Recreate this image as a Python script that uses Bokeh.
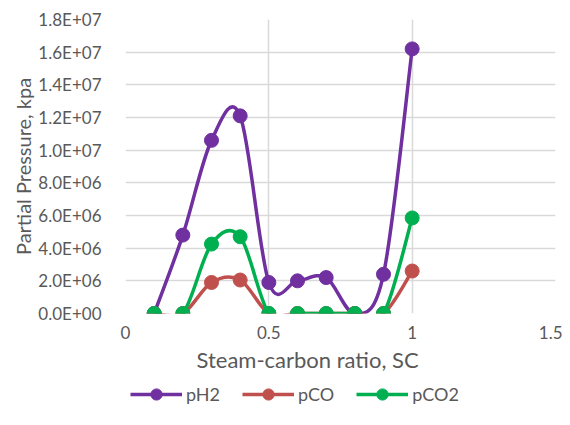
import numpy as np
from bokeh.plotting import figure
from bokeh.layouts import column
from bokeh.models import (FixedTicker, CustomJSTickFormatter, Legend, LegendItem,
                          ColumnDataSource, Range1d, Title)
from bokeh.embed import file_html
from bokeh.resources import INLINE

sc = [0.1, 0.2, 0.3, 0.4, 0.5, 0.6, 0.7, 0.8, 0.9, 1.0]
pH2 = [0.0, 4.8e6, 1.06e7, 1.21e7, 1.9e6, 2.0e6, 2.2e6, 0.0, 2.4e6, 1.62e7]
pCO = [0.0, 0.0, 1.9e6, 2.05e6, 0.0, 0.0, 0.0, 0.0, 0.0, 2.6e6]
pCO2 = [0.0, 0.0, 4.25e6, 4.7e6, 0.0, 0.0, 0.0, 0.0, 0.0, 5.85e6]
series = [("pH2", pH2, "#7030A0"), ("pCO", pCO, "#C0504D"), ("pCO2", pCO2, "#00B050")]

x_ticks = [0, 0.5, 1.0, 1.5]
x_labels = ["0", "0.5", "1", "1.5"]
y_ticks = [0, 2e6, 4e6, 6e6, 8e6, 1e7, 1.2e7, 1.4e7, 1.6e7, 1.8e7]

FONT = "Lato"
GREY = "#595959"
GRID = "#D9D9D9"

p = figure(frame_width=430, frame_height=294, output_backend="svg", toolbar_location=None,
           x_range=Range1d(0, 1.5), y_range=Range1d(0, 1.8e7),
           min_border_left=125, min_border_right=7, min_border_top=19, min_border_bottom=0)
p.outline_line_color = None
p.background_fill_color = "white"

def smooth_segments(xs, ys):
    x = np.asarray(xs, float); y = np.asarray(ys, float)
    n = len(x)
    xp = np.concatenate([[x[0]], x, [x[-1]]])
    yp = np.concatenate([[y[0]], y, [y[-1]]])
    d = dict(x0=[], y0=[], x1=[], y1=[], cx0=[], cy0=[], cx1=[], cy1=[])
    for i in range(n - 1):
        j = i + 1
        d["x0"].append(x[i]); d["y0"].append(y[i])
        d["x1"].append(x[i + 1]); d["y1"].append(y[i + 1])
        d["cx0"].append(x[i] + (xp[j + 1] - xp[j - 1]) / 6)
        d["cy0"].append(y[i] + (yp[j + 1] - yp[j - 1]) / 6)
        d["cx1"].append(x[i + 1] - (xp[j + 2] - xp[j]) / 6)
        d["cy1"].append(y[i + 1] - (yp[j + 2] - yp[j]) / 6)
    return ColumnDataSource(d)

for name, ys, col in series:
    src = smooth_segments(sc, ys)
    p.bezier(x0="x0", y0="y0", x1="x1", y1="y1", cx0="cx0", cy0="cy0",
             cx1="cx1", cy1="cy1", source=src, line_color=col, line_width=3.5)
    p.scatter(sc, ys, size=14, fill_color=col, line_color=col)

p.xaxis.ticker = FixedTicker(ticks=x_ticks)
p.xaxis.major_label_overrides = {t: l for t, l in zip(x_ticks, x_labels)}
p.yaxis.ticker = FixedTicker(ticks=y_ticks)
p.yaxis.formatter = CustomJSTickFormatter(code="""
var s = tick.toExponential(1); var parts = s.split('e');
var e = parseInt(parts[1]); var a = Math.abs(e);
return parts[0] + 'E' + (e < 0 ? '-' : '+') + (a < 10 ? '0' : '') + a;
""")
for ax in (p.xaxis, p.yaxis):
    ax.axis_line_color = None
    ax.major_tick_line_color = None
    ax.minor_tick_line_color = None
    ax.major_tick_in = 0
    ax.major_tick_out = 0
    ax.major_label_text_font = FONT
    ax.major_label_text_font_size = "17px"
    ax.major_label_text_color = GREY
    ax.axis_label_text_font = FONT
    ax.axis_label_text_font_size = "20px"
    ax.axis_label_text_color = GREY
    ax.axis_label_text_font_style = "normal"
p.yaxis.axis_label = "Partial Pressure, kpa"
p.xaxis.major_label_standoff = 12
p.yaxis.major_label_standoff = 24
p.yaxis.axis_label_standoff = 0

xtitle = Title(text="Steam-carbon ratio, SC", align="left", offset=71, standoff=4,
               text_font=FONT, text_font_size="22px", text_color=GREY,
               text_font_style="normal")
p.add_layout(xtitle, "below")

p.xgrid.ticker = FixedTicker(ticks=x_ticks)
p.ygrid.ticker = FixedTicker(ticks=y_ticks)
for g in (p.xgrid, p.ygrid):
    g.grid_line_color = GRID
    g.grid_line_width = 1.5

# legend-only strip: same series drawn far outside its visible range
lg = figure(frame_width=430, frame_height=34, output_backend="svg", toolbar_location=None,
            x_range=Range1d(100, 101), y_range=Range1d(100, 101),
            min_border_left=125, min_border_right=7, min_border_top=0, min_border_bottom=0)
lg.axis.visible = False
lg.grid.visible = False
lg.outline_line_color = None
items = []
for name, ys, col in series:
    l = lg.line(sc, ys, line_color=col, line_width=3.5)
    s = lg.scatter(sc, ys, size=14, fill_color=col, line_color=col)
    items.append(LegendItem(label=name, renderers=[l, s]))
legend = Legend(items=items, orientation="horizontal", location=(5, 0),
                label_text_font=FONT, label_text_font_size="18px",
                label_text_color=GREY, glyph_width=52, glyph_height=28,
                label_height=28, spacing=22, label_standoff=4, padding=3, margin=0,
                border_line_color=None, background_fill_alpha=0)
lg.add_layout(legend, "center")

open("out.html", "w").write(file_html(column(p, lg, spacing=0), INLINE))
